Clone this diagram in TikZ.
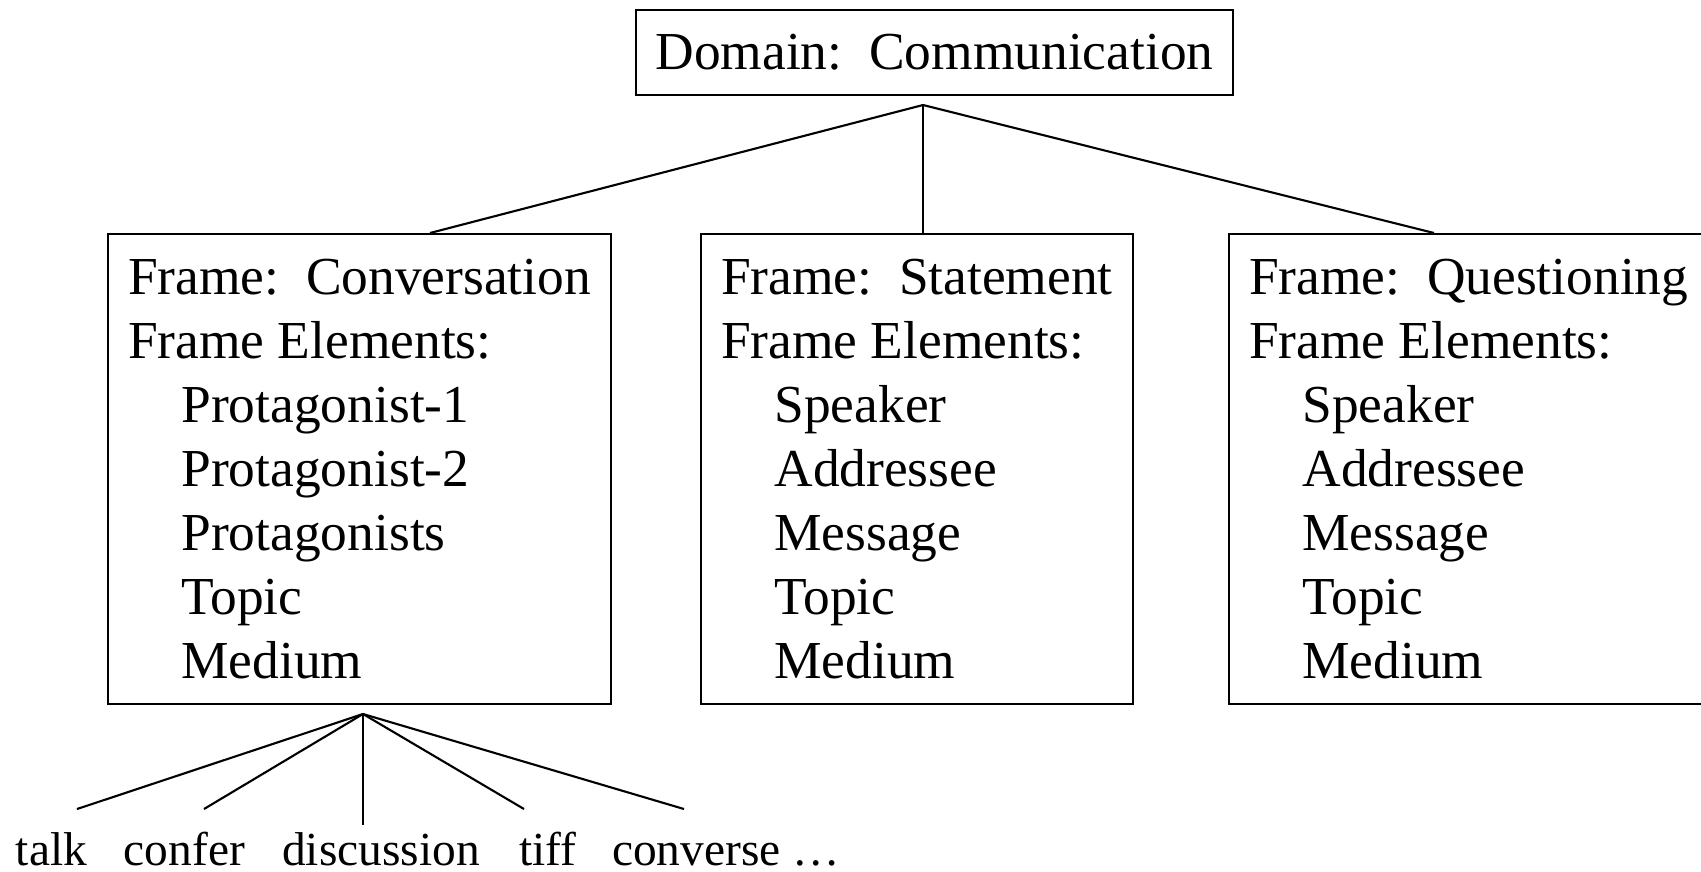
\documentclass[tikz,border=0pt]{standalone}
\usepackage{fontspec}
\setmainfont{Liberation Serif}
\newcommand{\felem}[1]{\hspace*{1em}#1}

\begin{document}
\begin{tikzpicture}[line width=0.6pt,
    domainbox/.style={draw, minimum width=5.97cm, minimum height=0.85cm,
        font=\fontsize{15.2}{18.2}\selectfont},
    framebox/.style={draw, anchor=north west, align=left, inner xsep=0.2cm,
        minimum height=4.70cm, font=\fontsize{15.2}{18.2}\selectfont},
    lexunit/.style={anchor=base, inner sep=0pt,
        font=\fontsize{13.5}{16}\selectfont}]

\useasboundingbox (0,0) rectangle (17.01,-8.71);

\coordinate (domain_hub) at (9.23,-1.05);
\coordinate (conv_hub) at (3.63,-7.14);

% Domain
\node[domainbox] (domain) at (9.345,-0.525) {Domain:\ \ Communication};

% Frames
\node[framebox] (conversation) at (1.07,-2.33) {Frame:\ \ Conversation\\
    Frame Elements:\\ \felem{Protagonist-1}\\ \felem{Protagonist-2}\\
    \felem{Protagonists}\\ \felem{Topic}\\ \felem{Medium}};
\node[framebox] (statement) at (7.00,-2.33) {Frame:\ \ Statement\\
    Frame Elements:\\ \felem{Speaker}\\ \felem{Addressee}\\
    \felem{Message}\\ \felem{Topic}\\ \felem{Medium}};
\node[framebox] (questioning) at (12.28,-2.33) {Frame:\ \ Questioning\\
    Frame Elements:\\ \felem{Speaker}\\ \felem{Addressee}\\
    \felem{Message}\\ \felem{Topic}\\ \felem{Medium}};

\draw (domain_hub) -- ([xshift=3.23cm]conversation.north west);
\draw (domain_hub) -- (domain_hub |- statement.north);
\draw (domain_hub) -- ([xshift=2.06cm]questioning.north west);

% Lexical units
\node[lexunit] (talk) at (0.515,-8.65) {talk};
\node[lexunit] (confer) at (1.845,-8.65) {confer};
\node[lexunit] (discussion) at (3.81,-8.65) {discussion};
\node[lexunit] (tiff) at (5.48,-8.65) {tiff};
\node[lexunit] (converse) at (7.26,-8.65) {converse \dots};

\coordinate (talk_end) at (0.77,-8.09);
\coordinate (confer_end) at (2.04,-8.09);
\coordinate (discussion_end) at (3.63,-8.25);
\coordinate (tiff_end) at (5.24,-8.09);
\coordinate (converse_end) at (6.84,-8.09);

\foreach \lu in {talk,confer,discussion,tiff,converse}
    \draw (conv_hub) -- (\lu_end);

\end{tikzpicture}
\end{document}
